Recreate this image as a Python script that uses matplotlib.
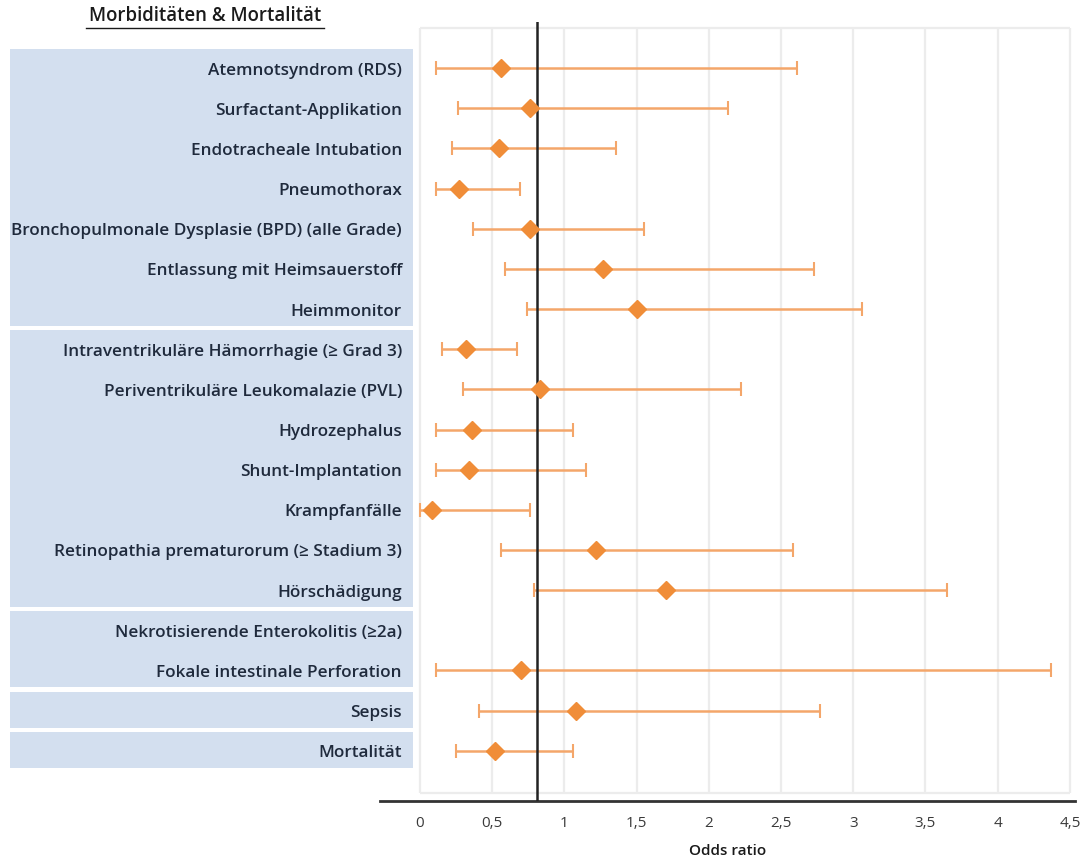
import numpy as np
import matplotlib.pyplot as plt
from matplotlib.patches import Rectangle

labels = [
    'Atemnotsyndrom (RDS)',
    'Surfactant-Applikation',
    'Endotracheale Intubation',
    'Pneumothorax',
    'Bronchopulmonale Dysplasie (BPD) (alle Grade)',
    'Entlassung mit Heimsauerstoff',
    'Heimmonitor',
    'Intraventrikuläre Hämorrhagie (≥ Grad 3)',
    'Periventrikuläre Leukomalazie (PVL)',
    'Hydrozephalus',
    'Shunt-Implantation',
    'Krampfanfälle',
    'Retinopathia prematurorum (≥ Stadium 3)',
    'Hörschädigung',
    'Nekrotisierende Enterokolitis (≥2a)',
    'Fokale intestinale Perforation',
    'Sepsis',
    'Mortalität',
]
odds = [0.56, 0.76, 0.55, 0.27, 0.76, 1.27, 1.50, 0.32, 0.83, 0.36, 0.34, 0.08,
        1.22, 1.70, np.nan, 0.70, 1.08, 0.52]
ci_low = [0.11, 0.26, 0.22, 0.11, 0.37, 0.59, 0.74, 0.15, 0.30, 0.11, 0.11, 0.0,
          0.56, 0.79, np.nan, 0.11, 0.41, 0.25]
ci_high = [2.61, 2.13, 1.36, 0.69, 1.55, 2.73, 3.06, 0.67, 2.22, 1.06, 1.15, 0.76,
           2.58, 3.65, np.nan, 4.37, 2.77, 1.06]
ref_line = 0.81
# label groups (first row, last row)
groups = [(0, 6), (7, 13), (14, 15), (16, 16), (17, 17)]
xticks = [0, 0.5, 1, 1.5, 2, 2.5, 3, 3.5, 4, 4.5]
xticklabels = ['0', '0,5', '1', '1,5', '2', '2,5', '3', '3,5', '4', '4,5']

plt.rcParams['font.family'] = ['Open Sans', 'DejaVu Sans']

W, H = 1083, 859
fig = plt.figure(figsize=(W / 100, H / 100), dpi=100)

ylo, yhi = 18.25, -1.15
ax_bottom = 1 - 801 / H
ax_top = 1 - 22 / H

# label panel (pixel x coordinates)
axl = fig.add_axes([0, ax_bottom, 430 / W, ax_top - ax_bottom])
axl.set_xlim(0, 430)
axl.set_ylim(ylo, yhi)
axl.axis('off')
box_color = '#d3dfef'
for first, last in groups:
    top = first - 0.47
    bot = last + 0.42
    axl.add_patch(Rectangle((10, top), 403, bot - top, facecolor=box_color,
                            edgecolor='none'))
for i, lab in enumerate(labels):
    axl.text(402, i + 0.06, lab, ha='right', va='center', fontsize=12.3,
             fontweight='semibold', color='#1f2a3c')

# title
fig.text(205 / W, 1 - 16 / H, 'Morbiditäten & Mortalität', ha='center',
         va='center', fontsize=13.4, fontweight='semibold', color='#1a1a1a')
fig.add_artist(plt.Line2D([86 / W, 324 / W], [1 - 28 / H, 1 - 28 / H],
                          color='#1a1a1a', lw=1.0))

# forest plot
ax = fig.add_axes([379.6 / W, ax_bottom, (1074.9 - 379.6) / W, ax_top - ax_bottom])
ax.set_facecolor('none')
ax.set_xlim(-0.28, 4.535)
ax.set_ylim(ylo, yhi)

grid_top, grid_bot = -1.0, 18.05
ax.vlines(xticks, grid_top, grid_bot, color='#ececec', lw=1.6, zorder=1)
ax.hlines([grid_top, grid_bot], 0, 4.5, color='#ececec', lw=1.6, zorder=1)

y = np.arange(len(labels))
odds_a = np.array(odds)
lo_a = np.array(ci_low)
hi_a = np.array(ci_high)
ok = ~np.isnan(odds_a)
ax.errorbar(odds_a[ok], y[ok], xerr=[odds_a[ok] - lo_a[ok], hi_a[ok] - odds_a[ok]],
            fmt='none', ecolor='#f4a66a', elinewidth=1.8, capsize=5, capthick=1.5,
            zorder=3)
ax.plot(odds_a[ok], y[ok], 'D', color='#f08d38', markersize=9.5,
        markeredgecolor='#f08d38', zorder=5, linestyle='none')

ax.axvline(ref_line, color='#222222', lw=1.8, zorder=4)

for s in ['top', 'right', 'left']:
    ax.spines[s].set_visible(False)
ax.spines['bottom'].set_color('#333333')
ax.spines['bottom'].set_linewidth(2)
ax.set_yticks([])
ax.set_xticks(xticks)
ax.set_xticklabels(xticklabels, fontsize=11, color='#3a3a3a')
ax.tick_params(axis='x', length=0, pad=11)
ax.set_xlabel('Odds ratio', fontsize=11, fontweight='semibold', color='#1a1a1a',
              labelpad=9)

fig.savefig('out.png', dpi=100)
